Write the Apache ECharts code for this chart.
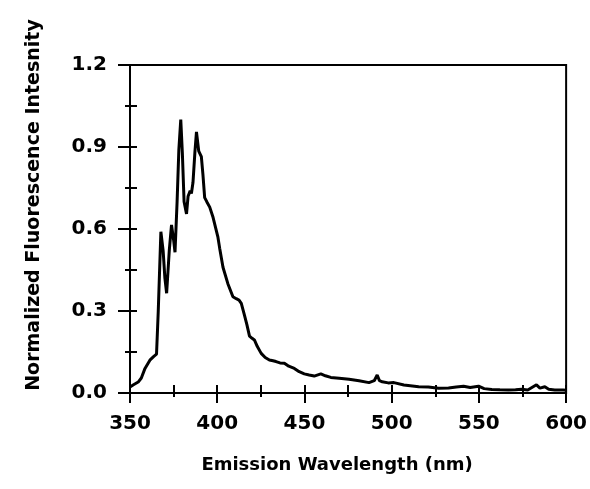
<!DOCTYPE html>
<html>
<head>
<meta charset="utf-8">
<script src="https://cdn.jsdelivr.net/npm/echarts@6/dist/echarts.min.js"></script>
<style>
html,body{margin:0;padding:0;background:#fff;}
#chart{width:590px;height:489px;}
</style>
</head>
<body>
<div id="chart"></div>
<script>
var wavelengths = [350,352,354.7,356.5,358.6,361.4,363.5,365.2,366.2,367.7,369,370,371,372.5,373.8,375,375.8,377,378,379.1,380,381,382.4,383.3,384.5,385.2,386.1,387.2,388.1,389.4,390.9,391.8,392.8,394,395.7,397.5,400.4,401.4,403.3,406.1,409,410.9,412.5,413.8,415.6,417,418.5,420,421.3,423,425.2,427.5,429.9,432,433.7,436,438.5,441,444.2,447,449.9,452.7,455.6,459.4,462,465.1,469.9,475.6,481.3,487,490,491.7,493,494.6,498,501.3,507,515.5,521,526.9,532.6,537,541.2,545,549.8,553,557.4,562,566.9,571,574.5,578,583,585,587.8,590,593.5,598.3,600];
var intensity = [0.022,0.030,0.040,0.055,0.09,0.12,0.133,0.142,0.30,0.59,0.52,0.42,0.365,0.52,0.615,0.56,0.515,0.70,0.89,1.0,0.88,0.70,0.655,0.72,0.74,0.73,0.77,0.88,0.955,0.885,0.865,0.80,0.715,0.70,0.68,0.645,0.57,0.53,0.46,0.40,0.352,0.345,0.34,0.328,0.285,0.25,0.208,0.20,0.194,0.17,0.145,0.13,0.121,0.118,0.115,0.11,0.109,0.098,0.09,0.078,0.07,0.066,0.062,0.07,0.063,0.057,0.054,0.050,0.045,0.038,0.045,0.066,0.045,0.041,0.037,0.038,0.029,0.023,0.022,0.017,0.018,0.022,0.025,0.02,0.025,0.016,0.013,0.012,0.011,0.012,0.014,0.011,0.03,0.018,0.023,0.014,0.011,0.011,0.01];
var xTicks = [350,400,450,500,550,600];
var yTicks = [0.0,0.3,0.6,0.9,1.2];
var xTitle = 'Emission Wavelength (nm)';
var yTitle = 'Normalized Fluorescence Intesnity';

var points = wavelengths.map(function(w,i){return [w, intensity[i]];});
var FONT = 'DejaVu Sans';

var chart = echarts.init(document.getElementById('chart'), null, {renderer:'canvas'});
chart.setOption({
  backgroundColor:'#fff',
  animation:false,
  grid:{left:130, right:22, top:65, bottom:96, show:true, borderColor:'#000', borderWidth:2, backgroundColor:'transparent'},
  xAxis:{
    type:'value', min:xTicks[0], max:xTicks[xTicks.length-1], interval:50, position:'bottom',
    offset:-8,
    axisLine:{show:false, onZero:false},
    axisTick:{show:true, inside:false, length:18, lineStyle:{color:'#000', width:2}},
    minorTick:{show:true, splitNumber:2, length:12, lineStyle:{color:'#000', width:2}},
    splitLine:{show:false},
    axisLabel:{margin:29, color:'#000', fontFamily:FONT, fontWeight:'bold', fontSize:20,
      formatter:function(v){return String(v);}},
    name:xTitle, nameLocation:'middle', nameGap:71,
    nameTextStyle:{color:'#000', fontFamily:FONT, fontWeight:'bold', fontSize:18, padding:[0,22,0,0]}
  },
  yAxis:{
    type:'value', min:yTicks[0], max:yTicks[yTicks.length-1], interval:0.3, position:'left',
    offset:-7,
    axisLine:{show:false, onZero:false},
    axisTick:{show:true, inside:false, length:19, lineStyle:{color:'#000', width:2}},
    minorTick:{show:true, splitNumber:2, length:12, lineStyle:{color:'#000', width:2}},
    splitLine:{show:false},
    axisLabel:{margin:30, color:'#000', fontFamily:FONT, fontWeight:'bold', fontSize:20,
      formatter:function(v){return v.toFixed(1);}},
    name:yTitle, nameLocation:'middle', nameGap:93, nameRotate:90,
    nameTextStyle:{color:'#000', fontFamily:FONT, fontWeight:'bold', fontSize:19, padding:[0,0,0,48]}
  },
  series:[{
    type:'line', data:points,
    showSymbol:false, smooth:false,
    lineStyle:{color:'#000', width:3}
  }]
});
</script>
</body>
</html>
